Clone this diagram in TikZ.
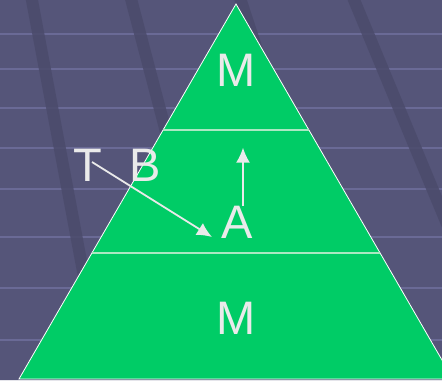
\documentclass[tikz,border=0pt]{standalone}
\usepackage{fontspec}
\setmainfont{Liberation Sans}
\usetikzlibrary{arrows.meta}
\definecolor{bgpurple}{RGB}{85,85,121}
\definecolor{stripe}{RGB}{75,75,107}
\definecolor{hline}{RGB}{106,106,150}
\definecolor{pyrgreen}{RGB}{0,204,102}
\definecolor{txtgrey}{RGB}{234,234,234}
\definecolor{divline}{RGB}{170,232,194}
\tikzset{
  lbl/.style={inner sep=0pt, text=txtgrey, font=\fontsize{47}{47}\selectfont},
  arr/.style={-{Latex[length=15pt,width=14pt]}, line width=1.8pt, draw=txtgrey}
}
\begin{document}
\begin{tikzpicture}[x=1pt, y=-1pt]
\useasboundingbox (0,0) rectangle (442,381);
\begin{scope}
\clip (0,0) rectangle (442,381);
% background
\fill[bgpurple] (0,0) rectangle (442,381);
\foreach \y in {34,69,108,148,189,237,288,340}
  \draw[hline, line width=2pt] (0,\y) -- (442,\y);
\foreach \xa/\xb in {31/94, 130/218, 239/349, 352/491}
  \draw[stripe, line width=12pt, opacity=0.85] (\xa,-5) -- (\xb,330);
% pyramid
\filldraw[fill=pyrgreen, draw=white, line width=0.8pt] (236,4) -- (453,379) -- (19,379) -- cycle;
\draw[divline, line width=1.2pt] (163,130) -- (309,130);
\draw[divline, line width=1.2pt] (92,253) -- (380,253);
\draw[white!85!bgpurple, line width=1.4pt] (0,380.5) -- (442,380.5);
\end{scope}
% labels
\node[lbl] (mtop) at (236,70) {M};
\node[lbl] (a) at (237,222) {A};
\node[lbl] (mbot) at (236,318) {M};
\node[lbl] (t) at (88,165) {T};
\node[lbl] (b) at (145,165) {B};
% arrows
\coordinate (tstart) at (92,162);
\coordinate (atip) at (212,237);
\draw[arr] (tstart) -- (atip);
\draw[arr] ([xshift=6pt]a.north) -- ++(0,-58);
\end{tikzpicture}
\end{document}
